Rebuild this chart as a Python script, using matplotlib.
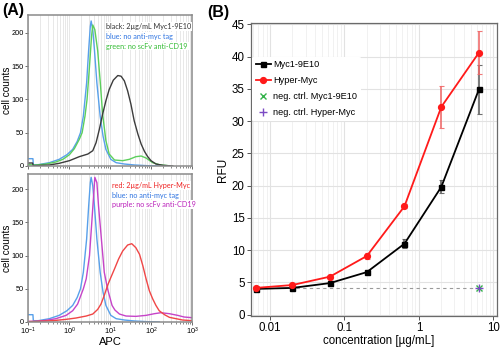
import numpy as np
import matplotlib
matplotlib.use("Agg")
import matplotlib.pyplot as plt
from matplotlib.ticker import LogLocator, NullFormatter, FixedLocator

plt.rcParams['font.family'] = ['Liberation Sans', 'DejaVu Sans']
plt.rcParams['mathtext.fontset'] = 'custom'
plt.rcParams['mathtext.rm'] = 'Liberation Sans'
plt.rcParams['mathtext.it'] = 'Liberation Sans:italic'

# ---- (A) flow cytometry histograms: log10(APC) positions and cell counts ----
blue_logx = [-1.0, -0.88, -0.87, -0.75, -0.48, -0.24, -0.05, 0.09, 0.20, 0.28, 0.35,
             0.43, 0.48, 0.52, 0.54, 0.58, 0.62, 0.68, 0.76, 0.83, 0.90, 1.02,
             1.15, 1.35, 1.60, 1.90, 2.2]
blue_cnt = [11, 11, 2, 2, 5, 10, 17, 25, 37, 50, 75,
            125, 175, 210, 218, 205, 175, 125, 75, 45, 25, 10,
            5, 3, 1.5, 0.5, 0]

green_logx = [-1.0, -0.80, -0.56, -0.32, -0.15, 0.01, 0.13, 0.25, 0.32, 0.39, 0.44,
              0.50, 0.55, 0.58, 0.63, 0.70, 0.76, 0.82, 0.90, 0.98, 1.11, 1.31,
              1.47, 1.63, 1.76, 1.88, 2.04, 2.2, 2.45]
green_cnt = [2, 1.5, 3, 6, 10, 17, 26, 40, 50, 75, 100,
             150, 195, 212, 205, 173, 128, 78, 38, 18, 9, 8,
             10, 14, 15, 12, 5, 2, 0.3]

black_logx = [-1.0, -0.89, -0.87, -0.48, -0.24, 0.01, 0.25, 0.46, 0.58, 0.66, 0.74,
              0.82, 0.90, 0.98, 1.08, 1.19, 1.27, 1.35, 1.43, 1.51, 1.59, 1.68,
              1.76, 1.84, 1.92, 2.0, 2.12, 2.29, 2.53]
black_cnt = [4.5, 4.5, 0.5, 1.5, 4, 8, 14, 18, 23, 35, 55,
             78, 98, 115, 129, 136, 135, 128, 113, 93, 68, 48,
             33, 22, 14, 8, 3, 1, 0]

red_logx = [-1.0, -0.80, -0.40, -0.07, 0.17, 0.42, 0.58, 0.70, 0.78, 0.86, 0.94,
            1.02, 1.11, 1.21, 1.31, 1.43, 1.53, 1.63, 1.72, 1.80, 1.88, 1.96,
            2.04, 2.12, 2.2, 2.33, 2.45, 2.61, 2.77, 3.0]
red_cnt = [0.5, 1, 2, 4, 6, 9, 12, 19, 27, 40, 55,
           67, 80, 95, 107, 116, 118, 112, 102, 85, 65, 47,
           35, 25, 17, 11, 7, 5, 3, 2]

purple_logx = [-1.0, -0.80, -0.56, -0.32, -0.07, 0.09, 0.21, 0.35, 0.42, 0.50, 0.55,
               0.60, 0.63, 0.68, 0.72, 0.79, 0.86, 0.94, 1.05, 1.12, 1.23, 1.39,
               1.63, 1.88, 2.08, 2.24, 2.45, 2.65, 2.81, 3.0]
purple_cnt = [1, 1, 2.5, 5, 10, 17, 27, 50, 65, 100, 145,
              190, 218, 210, 175, 125, 75, 50, 25, 18, 12, 9,
              8.5, 10, 12.5, 14, 12.5, 10, 7.5, 6.5]

# ---- (B) titration: concentration [ug/mL] vs RFU ----
conc = [0.0064, 0.02, 0.064, 0.2, 0.64, 2.0, 6.4]
myc_rfu = [4.0, 4.15, 4.9, 6.6, 11.0, 19.8, 34.9]
myc_err = [0.2, 0.15, 0.2, 0.2, 0.7, 1.0, 3.8]
hyper_rfu = [4.15, 4.6, 5.9, 9.1, 16.8, 32.2, 40.6]
hyper_err = [0.3, 0.2, 0.2, 0.4, 0.3, 3.2, 3.3]
neg_conc = [6.4]
neg_myc = [4.2]
neg_hyper = [4.2]

BLUE = '#58a0ea'
GREEN = '#5ccf5c'
BLACK = '#3c3c3c'
RED = '#f04646'
PURPLE = '#c644c8'

fig = plt.figure(figsize=(5, 3.47), dpi=100)
W, H = 500, 347


def px_axes(left, top, right, bottom):
    return fig.add_axes([left / W, (H - bottom) / H, (right - left) / W, (bottom - top) / H])


def style_hist(ax, ymax):
    ax.set_xscale('log')
    ax.set_xlim(0.1, 1000)
    ax.set_ylim(0, ymax)
    ax.xaxis.set_major_locator(LogLocator(base=10, numticks=10))
    ax.xaxis.set_minor_locator(LogLocator(base=10, subs=np.arange(2, 10), numticks=20))
    ax.xaxis.set_minor_formatter(NullFormatter())
    ax.yaxis.set_major_locator(FixedLocator([0, 50, 100, 150, 200]))
    ax.grid(True, which='both', axis='x', color='#e4e4e4', lw=0.6)
    ax.set_axisbelow(True)
    for s in ax.spines.values():
        s.set_color('#8a8a8a')
        s.set_linewidth(1.1)
    ax.tick_params(axis='both', which='major', labelsize=5.3, length=2, width=0.6,
                   color='#555555', pad=1)
    ax.tick_params(axis='x', which='minor', length=1.5, width=0.5, color='#555555')
    ax.set_ylabel('cell counts', fontsize=7.2)
    ax.yaxis.set_label_coords(-0.1, 0.5)


def note(ax, lines, x, y0):
    for i, (txt, col) in enumerate(lines):
        ax.text(x, y0 - i * 0.064, txt, transform=ax.transAxes, fontsize=5.2,
                family=['Lato', 'DejaVu Sans'], color=col, va='center', ha='left',
                bbox=dict(facecolor='white', edgecolor='none', pad=0.6))


# top histogram panel
axA1 = px_axes(28, 15, 192, 166)
style_hist(axA1, 227)
axA1.tick_params(axis='x', labelbottom=False)
axA1.plot(10 ** np.array(blue_logx), blue_cnt, color=BLUE, lw=1.0)
axA1.plot(10 ** np.array(green_logx), green_cnt, color=GREEN, lw=1.0)
axA1.plot(10 ** np.array(black_logx), black_cnt, color=BLACK, lw=1.0)
note(axA1, [('black: 2µg/mL Myc1-9E10', '#333333'),
            ('blue: no anti-myc tag', '#2f74e0'),
            ('green: no scFv anti-CD19', '#33bb33')], 0.477, 0.922)

# bottom histogram panel
axA2 = px_axes(28, 174, 192, 322)
style_hist(axA2, 223)
axA2.plot(10 ** np.array(blue_logx), blue_cnt, color=BLUE, lw=1.0)
axA2.plot(10 ** np.array(purple_logx), purple_cnt, color=PURPLE, lw=1.0)
axA2.plot(10 ** np.array(red_logx), red_cnt, color=RED, lw=1.0)
axA2.set_xlabel('APC', fontsize=8)
axA2.xaxis.set_label_coords(0.5, -0.098)
note(axA2, [('red: 2µg/mL Hyper-Myc', '#ee2222'),
            ('blue: no anti-myc tag', '#2f74e0'),
            ('purple: no scFv anti-CD19', '#bb22bb')], 0.51, 0.922)

fig.text(2 / W, 1 - 11 / H, '(A)', fontsize=11.5, fontweight='bold', va='center', ha='left')
fig.text(207 / W, 1 - 13 / H, '(B)', fontsize=11.5, fontweight='bold', va='center', ha='left')

# titration panel
axB = px_axes(251, 23, 497, 316)
axB.set_xscale('log')
axB.set_xlim(0.00556, 11.2)
axB.set_ylim(-0.2, 45.2)
axB.set_yticks(range(0, 46, 5))
axB.xaxis.set_major_locator(FixedLocator([0.01, 0.1, 1, 10]))
axB.set_xticklabels(['0.01', '0.1', '1', '10'])
axB.xaxis.set_minor_locator(LogLocator(base=10, subs=np.arange(2, 10), numticks=20))
axB.xaxis.set_minor_formatter(NullFormatter())
axB.grid(True, which='major', color='#e2e2e2', lw=0.8)
axB.grid(True, which='minor', axis='x', color='#efefef', lw=0.6)
axB.set_axisbelow(True)
for s in axB.spines.values():
    s.set_color('#6a6a6a')
    s.set_linewidth(0.9)
axB.tick_params(axis='both', which='major', labelsize=8.3, length=3, width=0.7,
                color='#555555', pad=1.5)
axB.tick_params(axis='x', which='minor', length=0)

axB.hlines(neg_myc[0], conc[0], neg_conc[0], colors='#9a9a9a', lw=0.8,
           linestyles=(0, (3, 3)), zorder=2)
axB.errorbar(conc, myc_rfu, yerr=myc_err, fmt='none', ecolor='#555555', elinewidth=1.3,
             capsize=1.8, capthick=0.8, alpha=0.85, zorder=3)
axB.errorbar(conc, hyper_rfu, yerr=hyper_err, fmt='none', ecolor='#f06a6a', elinewidth=1.3,
             capsize=1.8, capthick=0.8, alpha=0.9, zorder=3)
axB.plot(conc, myc_rfu, color='black', lw=1.3, marker='s', ms=3.6, label='Myc1-9E10', zorder=4)
axB.plot(conc, hyper_rfu, color='#ff1a1a', lw=1.3, marker='o', ms=4.2, label='Hyper-Myc', zorder=4)
axB.plot(neg_conc, neg_myc, ls='none', marker='x', color='#33b24a', ms=4.5, mew=1.0,
         label='neg. ctrl. Myc1-9E10', zorder=5)
axB.plot(neg_conc, neg_hyper, ls='none', marker='+', color='#7b4bc4', ms=5.5, mew=1.0,
         label='neg. ctrl. Hyper-Myc', zorder=5)

axB.set_xlabel('concentration [µg/mL]', fontsize=8.3)
axB.xaxis.set_label_coords(0.52, -0.066)
axB.set_ylabel('RFU', fontsize=8.5, labelpad=2)
leg = axB.legend(loc='upper left', bbox_to_anchor=(0.0, 0.89), fontsize=6.6,
                 frameon=True, facecolor='white', edgecolor='none', framealpha=1,
                 handlelength=1.6, handletextpad=0.3, labelspacing=0.75,
                 borderpad=0.4, borderaxespad=0.15)
leg.get_frame().set_linewidth(0)

fig.savefig('out.png', dpi=100)
